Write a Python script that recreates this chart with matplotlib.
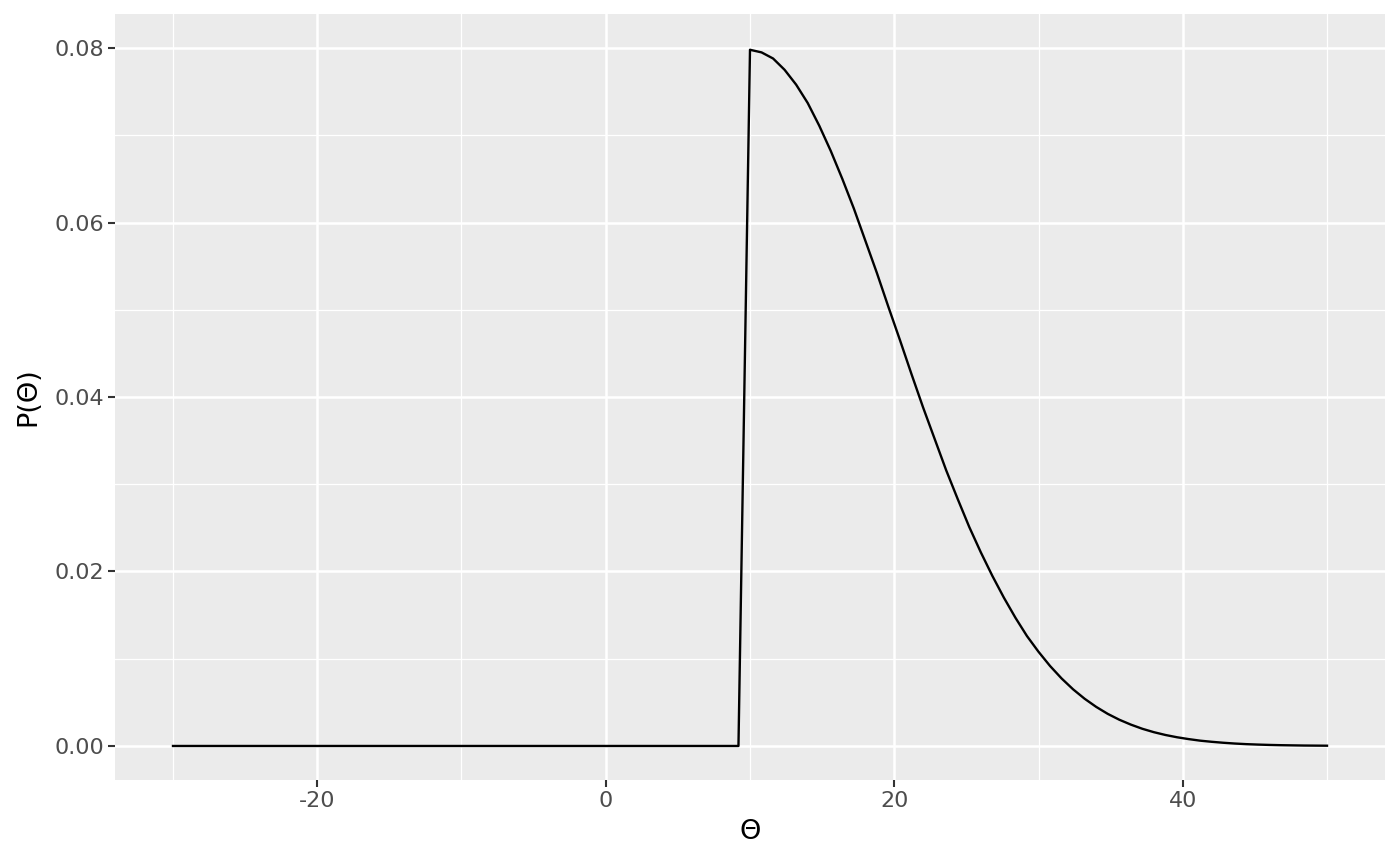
import matplotlib
matplotlib.use("Agg")
import matplotlib.pyplot as plt
import numpy as np

# grid of theta values (step 0.8 from -30 to 50)
theta = np.linspace(-30, 50, 101)

# density: zero up to 9.2, then the tail from 10 to 50
dens_zero = [0.0] * 50
dens_tail = [0.0798, 0.0795, 0.0788, 0.0775, 0.0758, 0.0737, 0.0711, 0.0682,
             0.0650, 0.0616, 0.0579, 0.0542, 0.0503, 0.0465, 0.0426, 0.0388,
             0.0352, 0.0316, 0.0283, 0.0251, 0.0222, 0.0195, 0.0170, 0.0147,
             0.0126, 0.0108, 0.00917, 0.00774, 0.00649, 0.00541, 0.00448,
             0.00368, 0.00301, 0.00245, 0.00197, 0.00158, 0.00126, 0.00100,
             0.00079, 0.00061, 0.00048, 0.00037, 0.00028, 0.00021, 0.00016,
             0.00012, 0.00009, 0.00007, 0.00005, 0.00004, 0.00003]
density = dens_zero + dens_tail

x_major = [-20, 0, 20, 40]
x_minor = [-30, -10, 10, 30, 50]
y_major = [0.0, 0.02, 0.04, 0.06, 0.08]
y_minor = [0.01, 0.03, 0.05, 0.07]

fig = plt.figure(figsize=(14, 8.65), dpi=100)
ax = fig.add_axes([115 / 1400, 1 - 780 / 865, 1270 / 1400, 766 / 865])
ax.set_facecolor("#EBEBEB")

for v in x_minor:
    ax.axvline(v, color="white", lw=0.9, zorder=1)
for v in y_minor:
    ax.axhline(v, color="white", lw=0.9, zorder=1)
for v in x_major:
    ax.axvline(v, color="white", lw=1.8, zorder=1)
for v in y_major:
    ax.axhline(v, color="white", lw=1.8, zorder=1)

ax.plot(theta, density, color="black", lw=1.7, zorder=3)

ax.set_xlim(-34.02, 54.02)
ax.set_ylim(-0.0039, 0.0839)
ax.set_xticks(x_major)
ax.set_xticklabels([str(v) for v in x_major])
ax.set_yticks(y_major)
ax.set_yticklabels(["0.00", "0.02", "0.04", "0.06", "0.08"])

for s in ax.spines.values():
    s.set_visible(False)
ax.tick_params(axis="both", colors="#333333", labelcolor="#4D4D4D",
               labelsize=16, length=5, width=1.5, pad=3)

ax.set_xlabel("Θ", fontsize=19.5, labelpad=6)
ax.set_ylabel("P(Θ)", fontsize=19.5, labelpad=9)

fig.savefig("out.png", dpi=100)
